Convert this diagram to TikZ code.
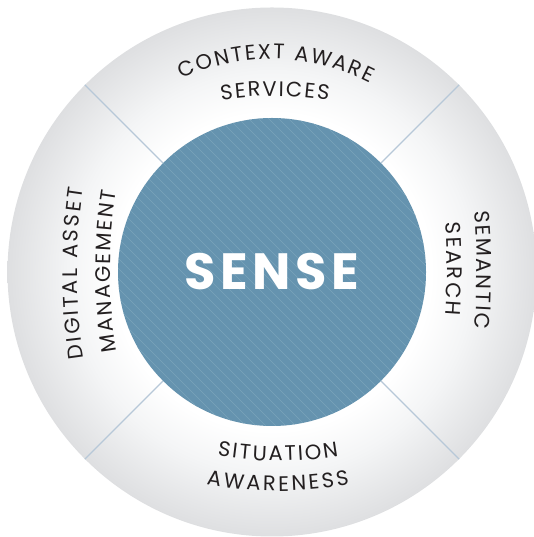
\documentclass[tikz,border=0pt]{standalone}
\usepackage{fontspec}
\setmainfont{Poppins}
\newfontfamily\labelfont{Poppins}
\newfontfamily\sensefont{Poppins}[LetterSpace=9]
\usetikzlibrary{decorations.text,calc}
\definecolor{ringedge}{HTML}{DEDFE1}
\definecolor{ringmid}{HTML}{F4F5F6}
\definecolor{senseblue}{HTML}{6593AF}
\definecolor{stripecol}{HTML}{7AA3BB}
\definecolor{divider}{HTML}{B7C8D8}
\definecolor{labeltext}{HTML}{231F20}
\pgfdeclareradialshading{ringshade}{\pgfpoint{0bp}{0bp}}{color(0bp)=(white); color(15bp)=(white); color(19bp)=(ringmid); color(25bp)=(ringedge); color(50bp)=(ringedge)}
\newcommand\lblfont{\labelfont\fontsize{21}{21}\selectfont}
\begin{document}
\begin{tikzpicture}[x=1pt,y=1pt,
  lbl/.style={decorate, decoration={text along path, text align={fit to path}, text color=labeltext}}]
\useasboundingbox (0,0) rectangle (534,537);
\node[circle, inner sep=0, minimum size=529, shading=ringshade] (outer) at (272,265) {};
\node[circle, inner sep=0, minimum size=308, fill=senseblue,
  path picture={\foreach \k in {-35,...,35}
    \draw[stripecol, line width=0.5] ($(path picture bounding box.center)+(\k*10-200,200)$) -- ++(400,-400);}] (inner) at (272,265) {};
\foreach \a in {45,135,225,315}
  \draw[divider, line width=1.1] (inner.\a) -- (outer.\a);
\node[anchor=base, text=white, font=\sensefont\bfseries\fontsize{51}{51}\selectfont] (sense) at (272,247) {SENSE};
% top
\path[lbl, decoration={text={|\lblfont|CONTEXT AWARE}}]
  ($(272,265)+(115:213)$) arc[start angle=115, end angle=62.6, radius=213];
\path[lbl, decoration={text={|\lblfont|SERVICES}}]
  ($(275,91)+(98.8:350)$) arc[start angle=98.8, end angle=81.2, radius=350];
% bottom
\path[lbl, decoration={text={|\lblfont|SITUATION}}]
  ($(278,436)+(260.3:360)$) arc[start angle=260.3, end angle=279.7, radius=360];
\path[lbl, decoration={text={|\lblfont|AWARENESS}}]
  ($(278,446)+(259.7:400)$) arc[start angle=259.7, end angle=280.3, radius=400];
% left
\path[lbl, decoration={text={|\lblfont|DIGITAL ASSET}}]
  ($(637,263.5)+(188.7:560)$) arc[start angle=188.7, end angle=171.3, radius=560];
\path[lbl, decoration={text={|\lblfont|MANAGEMENT}}]
  ($(590,266)+(189.6:480)$) arc[start angle=189.6, end angle=170.4, radius=480];
% right
\path[lbl, decoration={text={|\lblfont|SEMANTIC}}]
  ($(-223,267)+(4.8:700)$) arc[start angle=4.8, end angle=-4.8, radius=700];
\path[lbl, decoration={text={|\lblfont|SEARCH}}]
  ($(-153,268)+(4.4:600)$) arc[start angle=4.4, end angle=-4.4, radius=600];
\end{tikzpicture}
\end{document}
